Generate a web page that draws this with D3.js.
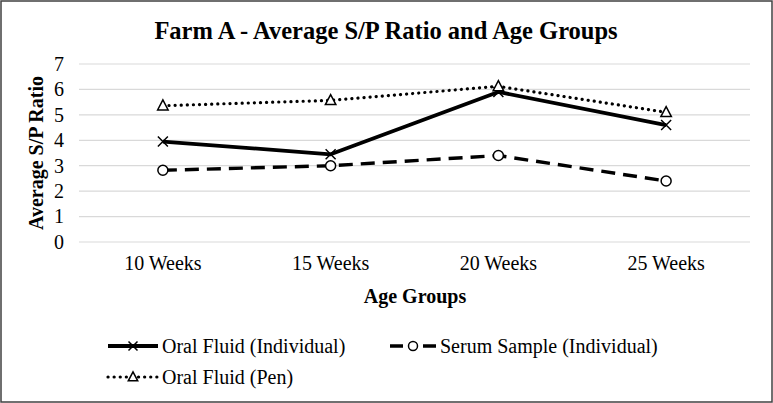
<!DOCTYPE html>
<html>
<head>
<meta charset="utf-8">
<script src="https://cdn.jsdelivr.net/npm/d3@7"></script>
<style>
  html, body { margin: 0; padding: 0; background: #fff; }
  svg { display: block; }
  text { font-family: "Liberation Serif", "Times New Roman", serif; fill: #000; }
</style>
</head>
<body>
<svg id="chart" width="773" height="403"></svg>
<script>
const categories = ["10 Weeks", "15 Weeks", "20 Weeks", "25 Weeks"];
const oralIndividual = [3.95, 3.45, 5.9, 4.6];
const serumIndividual = [2.82, 3.0, 3.4, 2.4];
const oralPen = [5.36, 5.57, 6.12, 5.1];
const yTicks = [0, 1, 2, 3, 4, 5, 6, 7];
const seriesNames = ["Oral Fluid (Individual)", "Serum Sample (Individual)", "Oral Fluid (Pen)"];

const svg = d3.select("#chart");
const W = 773, H = 403;

// outer border
svg.append("rect").attr("x", 1).attr("y", 1).attr("width", W - 2).attr("height", H - 2)
  .attr("fill", "#fff").attr("stroke", "#404040").attr("stroke-width", 1.5);

const x = d3.scaleBand().domain(categories).range([79, 750]);
const y = d3.scaleLinear().domain([0, 7]).range([242, 64]);

// gridlines
svg.append("g").selectAll("line").data(yTicks).join("line")
  .attr("x1", 79).attr("x2", 750)
  .attr("y1", d => y(d)).attr("y2", d => y(d))
  .attr("stroke", "#d9d9d9").attr("stroke-width", 1.2);

// y axis labels
const yAxis = d3.axisLeft(y).tickValues(yTicks).tickSize(0).tickPadding(0).tickFormat(d3.format("d"));
const gy = svg.append("g").attr("transform", "translate(64,0)").call(yAxis);
gy.select(".domain").remove();
gy.selectAll("text").attr("font-size", 20).attr("font-family", "Liberation Serif").attr("fill", "#000");

// x axis labels
const xAxis = d3.axisBottom(x).tickSize(0).tickPadding(0);
const gx = svg.append("g").attr("transform", "translate(0,256)").call(xAxis);
gx.select(".domain").remove();
gx.selectAll("text").attr("font-size", 20).attr("font-family", "Liberation Serif").attr("fill", "#000");

// title
svg.append("text").attr("x", 386).attr("y", 39).attr("text-anchor", "middle")
  .attr("font-size", 24.5).attr("font-weight", "bold").text("Farm A - Average S/P Ratio and Age Groups");

// axis titles
svg.append("text").attr("x", 415).attr("y", 303).attr("text-anchor", "middle")
  .attr("font-size", 20).attr("font-weight", "bold").text("Age Groups");
svg.append("text").attr("transform", "translate(43,153) rotate(-90)").attr("text-anchor", "middle")
  .attr("font-size", 20).attr("font-weight", "bold").text("Average S/P Ratio");

const cx = d => x(d) + x.bandwidth() / 2;
const line = d3.line().x(d => cx(d.c)).y(d => y(d.v));

const styles = [
  { data: oralIndividual, dash: null, width: 3.8, cap: "butt", marker: "x", legendDash: null },
  { data: serumIndividual, dash: "14,8", width: 3.4, cap: "butt", marker: "circle", legendDash: "13,20" },
  { data: oralPen, dash: "0.1,6", width: 3.2, cap: "round", marker: "triangle", legendDash: "0.1,6" }
];

function drawMarker(g, type, px, py, s) {
  if (type === "x") {
    g.append("path").attr("d", `M${px - s},${py - s}L${px + s},${py + s}M${px - s},${py + s}L${px + s},${py - s}`)
      .attr("stroke", "#000").attr("stroke-width", 1.5).attr("fill", "none");
  } else if (type === "circle") {
    g.append("circle").attr("cx", px).attr("cy", py).attr("r", s)
      .attr("fill", "#fff").attr("stroke", "#000").attr("stroke-width", 1.5);
  } else {
    g.append("path").attr("d", `M${px},${py - s * 1.15}L${px + s * 1.05},${py + s * 0.85}L${px - s * 1.05},${py + s * 0.85}Z`)
      .attr("fill", "#fff").attr("stroke", "#000").attr("stroke-width", 1.5);
  }
}

const gs = svg.append("g");
styles.forEach(st => {
  const pts = categories.map((c, i) => ({ c, v: st.data[i] }));
  gs.append("path").datum(pts).attr("d", line)
    .attr("fill", "none").attr("stroke", "#000").attr("stroke-width", st.width)
    .attr("stroke-dasharray", st.dash).attr("stroke-linecap", st.cap).attr("stroke-linejoin", "round");
});
styles.forEach(st => {
  categories.forEach((c, i) => {
    drawMarker(gs, st.marker, cx(c), y(st.data[i]), 5);
  });
});

// legend
const legendItems = [
  { name: seriesNames[0], st: styles[0], x0: 108, y0: 346, len: 50 },
  { name: seriesNames[1], st: styles[1], x0: 390, y0: 346, len: 46 },
  { name: seriesNames[2], st: styles[2], x0: 108, y0: 377, len: 50 }
];
const gl = svg.append("g");
legendItems.forEach(it => {
  gl.append("line").attr("x1", it.x0).attr("x2", it.x0 + it.len).attr("y1", it.y0).attr("y2", it.y0)
    .attr("stroke", "#000").attr("stroke-width", it.st.width)
    .attr("stroke-dasharray", it.st.legendDash)
    .attr("stroke-linecap", it.st.cap);
  drawMarker(gl, it.st.marker, it.x0 + it.len / 2, it.y0, 4.5);
  gl.append("text").attr("x", it.x0 + it.len + 4).attr("y", it.y0 + 7).attr("font-size", 20).text(it.name);
});
</script>
</body>
</html>
